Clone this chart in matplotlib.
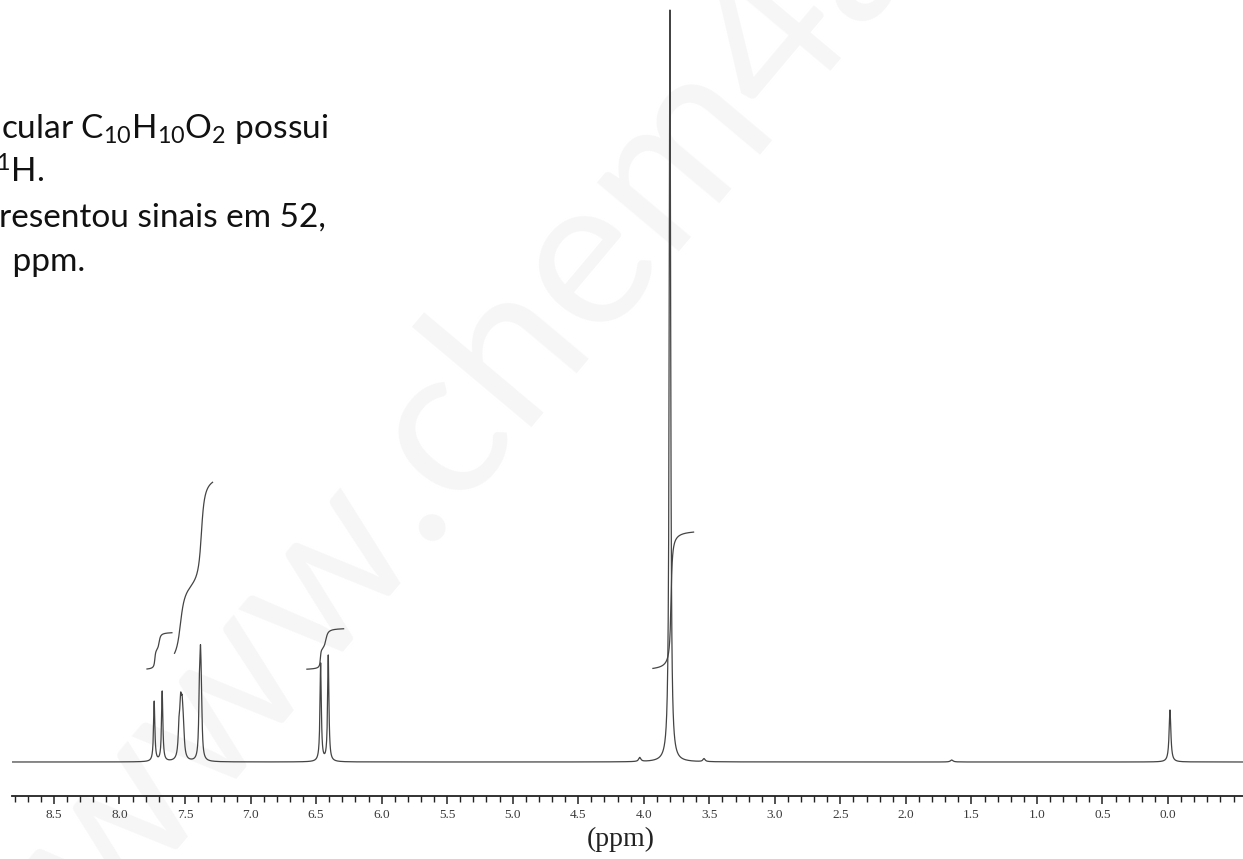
import numpy as np
import matplotlib
matplotlib.use("Agg")
import matplotlib.pyplot as plt
from matplotlib.ticker import FixedLocator

plt.rcParams['mathtext.fontset'] = 'custom'
plt.rcParams['mathtext.rm'] = 'Lato'
plt.rcParams['mathtext.it'] = 'Lato'

# 1H NMR lines: shift (ppm), height above baseline, half width (ppm)
peak_ppm = [7.735, 7.674, 7.545, 7.533, 7.522, 7.512, 7.390, 7.382, 7.375, 6.465, 6.407, 4.03, 3.80, 3.54, 1.65, -0.015]
peak_height = [60, 70, 28, 44, 40, 22, 55, 78, 45, 98, 106, 4, 752, 3, 2, 52]
peak_hw = [0.006, 0.006, 0.008, 0.008, 0.008, 0.008, 0.006, 0.006, 0.006, 0.006, 0.006, 0.01, 0.0065, 0.01, 0.012, 0.008]

# integral traces: range, base level, steps (position, rise, width)
int_start = [7.79, 7.58, 6.57, 3.93]
int_end = [7.60, 7.29, 6.29, 3.62]
int_base = [92, 92, 92, 91]
int_step_ppm = [[7.730, 7.697], [7.535, 7.375], [6.467, 6.425], [3.792]]
int_step_rise = [[20, 18], [84, 114], [20, 22], [141]]
int_step_w = [[0.005, 0.008], [0.025, 0.018], [0.004, 0.012], [0.008]]

major_ticks = [8.5, 8.0, 7.5, 7.0, 6.5, 6.0, 5.5, 5.0, 4.5, 4.0, 3.5, 3.0, 2.5, 2.0, 1.5, 1.0, 0.5, 0.0]

W, H = 1243, 859
fig = plt.figure(figsize=(W / 100, H / 100), dpi=100)

# watermark, behind everything
fig.text(105 / W, 1 - 932 / H, "www.chem4all.com", rotation=50, rotation_mode='anchor',
         ha='left', va='baseline', fontsize=152, color='#f6f6f6', family='Lato', zorder=-1)

ax = fig.add_axes([12 / W, (H - 796) / H, 1231 / W, 796 / H])
ax.patch.set_alpha(0)

x = np.arange(-0.6, 8.85, 0.0005)
y = np.zeros_like(x)
for p, h, w in zip(peak_ppm, peak_height, peak_hw):
    y += h / (1 + ((x - p) / w) ** 2)
ax.plot(x, y, color='#444444', lw=0.9)

for s, e, b, sp, sr, sw in zip(int_start, int_end, int_base, int_step_ppm, int_step_rise, int_step_w):
    xi = np.linspace(e, s, 600)
    yi = np.full_like(xi, float(b))
    for p, r, w in zip(sp, sr, sw):
        yi += r * (0.5 - np.arctan((xi - p) / w) / np.pi)
    ax.plot(xi, yi, color='#444444', lw=0.9)

ax.set_xlim(8.82, -0.572)
ax.set_ylim(-34, 762)

for side in ['top', 'left', 'right']:
    ax.spines[side].set_visible(False)
ax.spines['bottom'].set_linewidth(1.3)
ax.spines['bottom'].set_color('#222222')
ax.yaxis.set_visible(False)

minor = [round(v, 1) for v in np.arange(-0.5, 8.81, 0.1) if round(v * 10) % 5 != 0 or round(v, 1) == -0.5]
ax.xaxis.set_major_locator(FixedLocator(major_ticks))
ax.xaxis.set_minor_locator(FixedLocator(minor))
ax.set_xticklabels(["%.1f" % v for v in major_ticks], family='Liberation Serif', fontsize=9.5, color='#3a3a3a')
ax.tick_params(axis='x', which='major', length=6, width=1.1, direction='out', pad=3, color='#222222')
ax.tick_params(axis='x', which='minor', length=4.5, width=1.0, direction='out', color='#222222')

fig.text(621 / W, 1 - 839 / H, "(ppm)", ha='center', va='center', family='Liberation Serif', fontsize=20, color='#222222')

# question text, cut at the left edge
tk = dict(family='Lato', fontsize=24, color='#111111', ha='left', va='baseline')
fig.text(1 / W, 1 - 138 / H, "cular C$_{10}$H$_{10}$O$_{2}$ possui", **tk)
fig.text(-4 / W, 1 - 183 / H, "$^{1}$H.", **tk)
fig.text(-1 / W, 1 - 227 / H, "resentou sinais em 52,", **tk)
fig.text(4 / W, 1 - 271 / H, " ppm.", **tk)

fig.savefig("out.png", dpi=100)
